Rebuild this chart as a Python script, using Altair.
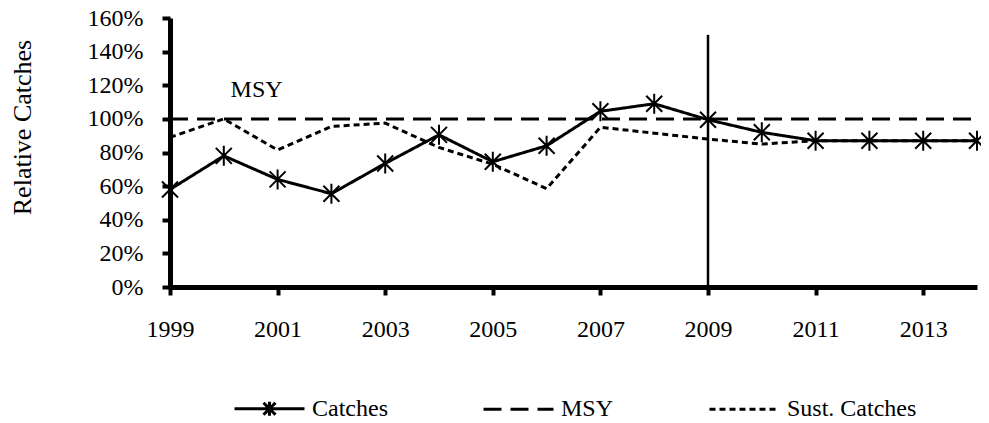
import altair as alt
import pandas as pd

# ---- data ----
years = list(range(1999, 2015))
catches = [0.58, 0.78, 0.64, 0.555, 0.735, 0.905, 0.745, 0.84, 1.045, 1.09, 0.995, 0.92, 0.87, 0.87, 0.87, 0.87]
msy = [1.0] * 16
sust_catches = [0.89, 1.00, 0.815, 0.955, 0.975, 0.83, 0.73, 0.585, 0.95, 0.915, 0.88, 0.85, 0.87, 0.87, 0.87, 0.87]
series_names = ["Catches", "MSY", "Sust. Catches"]

x_tick_values = [1999, 2001, 2003, 2005, 2007, 2009, 2011, 2013]
y_tick_values = [0, 0.2, 0.4, 0.6, 0.8, 1.0, 1.2, 1.4, 1.6]

vline_year = [2009]
vline_from = [0.0]
vline_to = [1.5]

annot_year = [2000.61]
annot_value = [1.13]
annot_text = ["MSY"]

FONT = "Liberation Serif"

df = pd.DataFrame({
    "year": years * 3,
    "series": ["Catches"] * 16 + ["MSY"] * 16 + ["Sust. Catches"] * 16,
    "value": catches + msy + sust_catches,
})
vline_df = pd.DataFrame({"year": vline_year, "value": vline_from, "value2": vline_to})
annot_df = pd.DataFrame({"year": annot_year, "value": annot_value, "label": annot_text})

star_path = "M0,-1L0,1M-0.8,-0.8L0.8,0.8M-0.8,0.8L0.8,-0.8"
legend_catch_path = "M-1,0L1,0M0,-0.2L0,0.2M-0.17,-0.17L0.17,0.17M-0.17,0.17L0.17,-0.17"
dash_patterns = [[1, 0], [18, 9], [6, 4]]
legend_shapes = [legend_catch_path, "stroke", "stroke"]

x_scale = alt.Scale(domain=[1999, 2014], nice=False, zero=False)
y_scale = alt.Scale(domain=[0, 1.6], nice=False)

x_axis = alt.Axis(values=x_tick_values, format="d", title=None, grid=False,
                  labelFlush=False, labelPadding=22, labelOverlap=False)
y_axis = alt.Axis(values=y_tick_values, format=".0%", title="Relative Catches", grid=False,
                  labelFlush=False, labelPadding=19, titleX=-148, titleY=109,
                  titleAlign="center", titleBaseline="middle", titleFontSize=26,
                  titleFont=FONT, titleFontWeight="normal", titleColor="black")

X = alt.X("year:Q", scale=x_scale, axis=x_axis)
Y = alt.Y("value:Q", scale=y_scale, axis=y_axis)

legend = alt.Legend(title=None, orient="none", legendX=63, legendY=354, direction="horizontal",
                    symbolSize=4900, symbolStrokeWidth=3, symbolStrokeColor="black",
                    symbolFillColor="transparent", symbolOpacity=1,
                    labelFont=FONT, labelFontSize=24, labelColor="black", labelOffset=6,
                    columnPadding=89)

lines = alt.Chart(df).mark_line(color="black", strokeWidth=3).encode(
    x=X, y=Y,
    strokeDash=alt.StrokeDash("series:N", scale=alt.Scale(domain=series_names, range=dash_patterns),
                              legend=legend),
)

stars = alt.Chart(df).transform_filter(alt.datum.series == "Catches").mark_point(
    shape=star_path, size=400, filled=False, color="black", strokeWidth=2, opacity=1
).encode(x=X, y=Y)

legend_layer = alt.Chart(df).transform_filter("false").mark_point(
    filled=False, color="black", strokeWidth=3
).encode(
    x=X, y=Y,
    shape=alt.Shape("series:N", scale=alt.Scale(domain=series_names, range=legend_shapes),
                    legend=legend),
)

vline = alt.Chart(vline_df).mark_rule(color="black", strokeWidth=2.5).encode(
    x=X, y=Y, y2="value2:Q"
)

annot = alt.Chart(annot_df).mark_text(font=FONT, fontSize=24, color="black",
                                      align="center", baseline="alphabetic").encode(
    x=X, y=Y, text="label:N"
)

chart = alt.layer(lines, vline, stars, legend_layer, annot).properties(
    width=807, height=269,
    autosize=alt.AutoSizeParams(type="none"),
    padding={"left": 162, "top": 10, "right": 4, "bottom": 141},
    background="white",
).configure_view(stroke=None).configure_axis(
    domainColor="black", domainWidth=5, tickColor="black", tickWidth=4, tickSize=8,
    labelFont=FONT, labelFontSize=24, labelColor="black",
)

chart.save("out.html", embed_options={"renderer": "svg", "actions": False})
